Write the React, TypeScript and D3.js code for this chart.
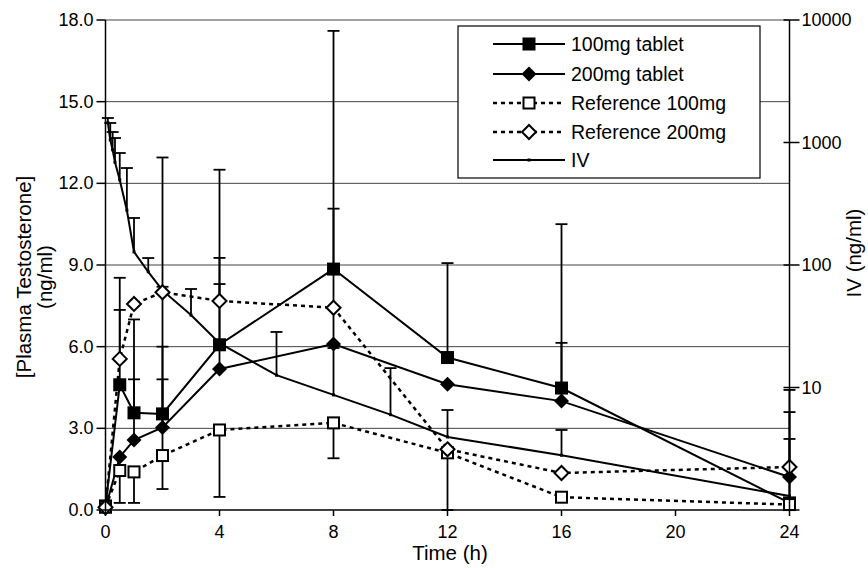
import React from "react";
import * as d3 from "d3";

// sampling times (h) for the oral arms
const times = [0, 0.5, 1, 2, 4, 8, 12, 16, 24];
const tablet100 = [0.15, 4.6, 3.57, 3.53, 6.07, 8.85, 5.6, 4.48, 0.26];
const tablet200 = [0.08, 1.95, 2.57, 3.03, 5.18, 6.1, 4.62, 4.0, 1.21];
const ref100 = [0.1, 1.45, 1.4, 2.0, 2.94, 3.2, 2.1, 0.47, 0.2];
const ref200 = [0.1, 5.55, 7.57, 8.0, 7.68, 7.43, 2.23, 1.36, 1.58];

// error bar ends (ng/ml), null = no bar visible
const tablet100Err = [null, 8.53, 7.0, 12.95, 12.5, 17.6, 9.07, 10.5, 4.41];
const tablet200Err = [null, null, 4.8, 6.0, 9.26, 11.07, null, 6.14, 2.61];
const ref100Err = [null, 0.26, 0.26, 0.77, 0.48, 1.9, 0.0, null, null];
const ref100ErrHi = [null, null, null, 4.8, null, null, null, null, null];
const ref200Err = [null, 7.35, null, 8.2, 8.3, null, null, null, null];

// IV arm, plotted on the right log axis
const ivTimes = [0.083, 0.167, 0.25, 0.333, 0.5, 0.75, 1, 1.5, 2, 3, 4, 6, 8, 10, 12, 16, 24];
const ivConc = [1450, 1050, 870, 690, 495, 280, 128, 88, 62, 39, 23, 12.6, 8.7, 6.0, 3.95, 2.8, 1.3];
const ivErr = [1585, 1443, 1218, 1088, 821, 619, 242, 114, null, 63.7, null, 28.4, 21, 14.4, 6.55, 4.5, 6.3];

const leftTicks = [0, 3, 6, 9, 12, 15, 18];
const rightTicks = [1, 10, 100, 1000, 10000];
const xTicks = [0, 4, 8, 12, 16, 20, 24];

const legendLabels = ["100mg tablet", "200mg tablet", "Reference 100mg", "Reference 200mg", "IV"];

const W = 868, H = 568;
const FONT = "'Liberation Sans', Arial, sans-serif";

const x = d3.scaleLinear().domain([0, 24]).range([105.5, 789.5]);
const y = d3.scaleLinear().domain([0, 18]).range([510, 20]);
const yIV = d3.scaleLog().domain([1, 10000]).range([510, 20]);

type Pt = { t: number; v: number; e: number | null };

const zip = (ts: number[], vs: number[], es: (number | null)[]): Pt[] =>
  ts.map((t, i) => ({ t, v: vs[i], e: es[i] }));

const Marker = ({ kind, cx, cy }: { kind: string; cx: number; cy: number }) => {
  if (kind === "fsq") return <rect x={cx - 6.5} y={cy - 6.5} width={13} height={13} fill="#000" />;
  if (kind === "fdi")
    return <path d={`M${cx},${cy - 7.5}L${cx + 7.5},${cy}L${cx},${cy + 7.5}L${cx - 7.5},${cy}Z`} fill="#000" />;
  if (kind === "osq")
    return <rect x={cx - 5.5} y={cy - 5.5} width={11} height={11} fill="#fff" stroke="#000" strokeWidth={2} />;
  if (kind === "odi")
    return (
      <path
        d={`M${cx},${cy - 7}L${cx + 7},${cy}L${cx},${cy + 7}L${cx - 7},${cy}Z`}
        fill="#fff"
        stroke="#000"
        strokeWidth={2}
      />
    );
  return <rect x={cx - 1.5} y={cy - 1.5} width={3} height={3} fill="#000" />;
};

const ErrBars = ({ pts, sy }: { pts: Pt[]; sy: (v: number) => number }) => (
  <g stroke="#000" strokeWidth={1.8}>
    {pts
      .filter((p) => p.e !== null)
      .map((p, i) => (
        <g key={i}>
          <line x1={x(p.t)} x2={x(p.t)} y1={sy(p.v)} y2={sy(p.e as number)} />
          <line x1={x(p.t) - 6} x2={x(p.t) + 6} y1={sy(p.e as number)} y2={sy(p.e as number)} />
        </g>
      ))}
  </g>
);

const App = () => {
  const s100 = zip(times, tablet100, tablet100Err);
  const s200 = zip(times, tablet200, tablet200Err);
  const r100 = zip(times, ref100, ref100Err);
  const r100hi = zip(times, ref100, ref100ErrHi);
  const r200 = zip(times, ref200, ref200Err);
  const iv = zip(ivTimes, ivConc, ivErr);

  const line = d3.line<Pt>().x((d) => x(d.t)).y((d) => y(d.v));
  const ivLine = d3.line<Pt>().x((d) => x(d.t)).y((d) => yIV(d.v));

  const series = [
    { pts: s100, kind: "fsq", dash: undefined },
    { pts: s200, kind: "fdi", dash: undefined },
    { pts: r100, kind: "osq", dash: "4 4" },
    { pts: r200, kind: "odi", dash: "4 4" },
  ];

  const legY = [44, 74, 103, 132, 160];
  const legKinds = ["fsq", "fdi", "osq", "odi", "iv"];

  return (
    <svg width={W} height={H} style={{ position: "absolute", left: 0, top: 0, background: "#fff" }} fontFamily={FONT}>
      {/* grid */}
      <g stroke="#444" strokeWidth={1}>
        {leftTicks.slice(1).map((t) => (
          <line key={t} x1={x(0)} x2={x(24)} y1={y(t)} y2={y(t)} />
        ))}
      </g>

      {/* IV */}
      <ErrBars pts={iv} sy={yIV} />
      <path d={ivLine(iv) || ""} fill="none" stroke="#000" strokeWidth={2} />
      {iv.map((p, i) => (
        <Marker key={i} kind="iv" cx={x(p.t)} cy={yIV(p.v)} />
      ))}

      {/* error bars for oral arms */}
      <ErrBars pts={s100} sy={y} />
      <ErrBars pts={s200} sy={y} />
      <ErrBars pts={r100} sy={y} />
      <ErrBars pts={r100hi} sy={y} />
      <ErrBars pts={r200} sy={y} />

      {series.map((s, i) => (
        <path
          key={i}
          d={line(s.pts) || ""}
          fill="none"
          stroke="#000"
          strokeWidth={s.dash ? 2.5 : 2}
          strokeDasharray={s.dash}
        />
      ))}
      {series.map((s, i) => (
        <g key={i}>
          {s.pts.map((p, j) => (
            <Marker key={j} kind={s.kind} cx={x(p.t)} cy={y(p.v)} />
          ))}
        </g>
      ))}

      {/* axes */}
      <g stroke="#000" strokeWidth={1.5}>
        <line x1={x(0)} x2={x(0)} y1={y(0)} y2={y(18)} />
        <line x1={x(0)} x2={x(24)} y1={y(0)} y2={y(0)} />
        <line x1={x(24)} x2={x(24)} y1={y(0)} y2={y(18)} />
        {leftTicks.map((t) => (
          <line key={t} x1={x(0) - 9} x2={x(0)} y1={y(t)} y2={y(t)} />
        ))}
        {xTicks.map((t) => (
          <line key={t} x1={x(t)} x2={x(t)} y1={y(0)} y2={y(0) + 6} />
        ))}
        {rightTicks.map((t) => (
          <line key={t} x1={x(24) - 6} x2={x(24) + 10} y1={yIV(t)} y2={yIV(t)} />
        ))}
      </g>
      <g fontSize={18} fill="#000">
        {leftTicks.map((t) => (
          <text key={t} x={x(0) - 12} y={y(t)} textAnchor="end" dominantBaseline="central">
            {d3.format(".1f")(t)}
          </text>
        ))}
        {xTicks.map((t) => (
          <text key={t} x={x(t)} y={y(0) + 22} textAnchor="middle" dominantBaseline="central">
            {t}
          </text>
        ))}
        {rightTicks.slice(1).map((t) => (
          <text key={t} x={x(24) + 12} y={yIV(t)} dominantBaseline="central">
            {t}
          </text>
        ))}
      </g>
      <g fontSize={20.5} fill="#000" textAnchor="middle">
        <text x={450} y={560}>Time (h)</text>
        <text transform="translate(31,277) rotate(-90)">[Plasma Testosterone]</text>
        <text transform="translate(52,277) rotate(-90)">(ng/ml)</text>
        <text transform="translate(861,253) rotate(-90)">IV (ng/ml)</text>
      </g>

      {/* legend */}
      <rect x={458} y={26} width={302} height={152} fill="#fff" stroke="#000" strokeWidth={1.2} />
      {legendLabels.map((lab, i) => (
        <g key={lab}>
          <line
            x1={493}
            x2={565}
            y1={legY[i]}
            y2={legY[i]}
            stroke="#000"
            strokeWidth={i >= 2 && i <= 3 ? 2.5 : 2}
            strokeDasharray={i >= 2 && i <= 3 ? "4 4" : undefined}
          />
          <Marker kind={legKinds[i]} cx={529} cy={legY[i]} />
          <text x={571} y={legY[i]} fontSize={19.5} dominantBaseline="central">
            {lab}
          </text>
        </g>
      ))}
    </svg>
  );
};

export default App;
